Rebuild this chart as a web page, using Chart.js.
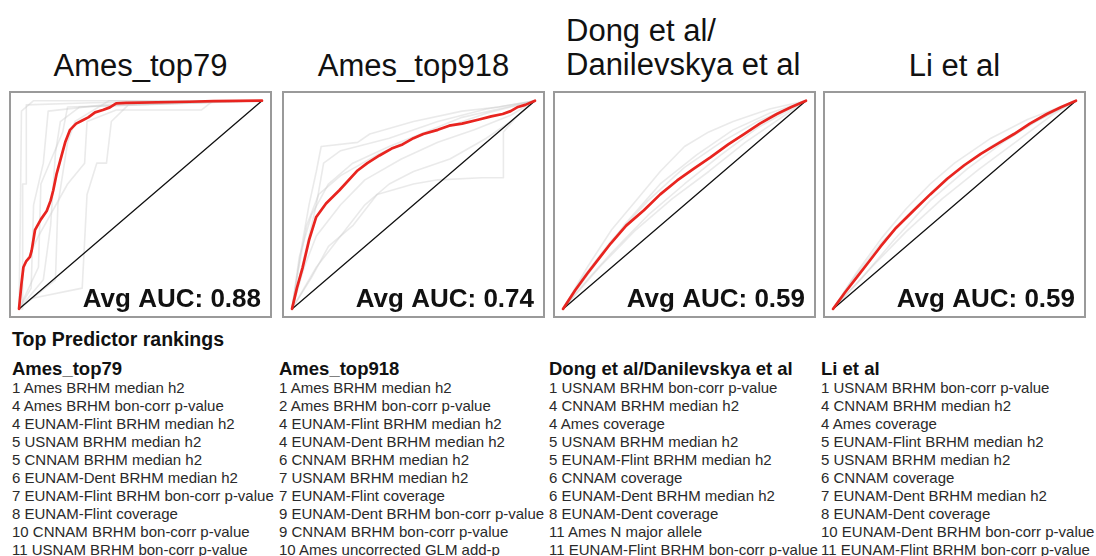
<!DOCTYPE html>
<html>
<head>
<meta charset="utf-8">
<script src="https://cdn.jsdelivr.net/npm/chart.js@4.4.0/dist/chart.umd.min.js"></script>
<style>
  body { margin: 0; background: #fff; font-family: "Liberation Sans", Arial, Helvetica, sans-serif; }
  #page { position: relative; width: 1096px; height: 556px; overflow: hidden; }
  .title { position: absolute; font-size: 31px; line-height: 34px; color: #111; white-space: nowrap; }
  .panel { position: absolute; top: 91px; width: 263px; height: 227px; box-sizing: border-box; border: 2px solid #9a9a9a; }
  .panel canvas { display: block; }
  #ranktitle { position: absolute; left: 12px; top: 330px; font-weight: bold; font-size: 19.5px; line-height: 19.5px; color: #111; }
  .col { position: absolute; top: 360px; white-space: nowrap; }
  .col h3 { margin: 0; font-size: 18.5px; line-height: 18.5px; font-weight: bold; color: #111; }
  .col div { font-size: 15px; line-height: 18.05px; color: #2a2a2a; }
</style>
</head>
<body>
<div id="page">
  <div class="title" style="left:9px;width:263px;text-align:center;top:49px">Ames_top79</div>
  <div class="title" style="left:282px;width:263px;text-align:center;top:49px">Ames_top918</div>
  <div class="title" style="left:566px;top:14px">Dong et al/<br>Danilevskya et al</div>
  <div class="title" style="left:823px;width:263px;text-align:center;top:49px">Li et al</div>

  <div class="panel" style="left:9px"><canvas id="c0" width="259" height="223"></canvas></div>
  <div class="panel" style="left:282px"><canvas id="c1" width="259" height="223"></canvas></div>
  <div class="panel" style="left:553px"><canvas id="c2" width="259" height="223"></canvas></div>
  <div class="panel" style="left:823px"><canvas id="c3" width="259" height="223"></canvas></div>

  <div id="ranktitle">Top Predictor rankings</div>
  <div class="col" id="r0" style="left:12px"></div>
  <div class="col" id="r1" style="left:279px"></div>
  <div class="col" id="r2" style="left:549px"></div>
  <div class="col" id="r3" style="left:821px"></div>
</div>

<script>
// panel names and average AUC labels
const panelNames = ['Ames_top79', 'Ames_top918', 'Dong et al/Danilevskya et al', 'Li et al'];
const avgAuc = ['0.88', '0.74', '0.59', '0.59'];

// average ROC curves (fpr, tpr)
const top79Avg = [[0,0],[0.01,0.12],[0.018,0.2],[0.03,0.23],[0.045,0.25],[0.052,0.28],[0.066,0.38],[0.09,0.43],[0.114,0.47],[0.13,0.52],[0.141,0.57],[0.155,0.65],[0.169,0.71],[0.19,0.8],[0.21,0.86],[0.235,0.89],[0.26,0.905],[0.285,0.92],[0.313,0.944],[0.345,0.955],[0.374,0.968],[0.4,0.987],[0.44,0.99],[0.7,0.995],[0.8,0.998],[1,1]];
const top918Avg = [[0,0],[0.02,0.1],[0.044,0.2],[0.07,0.33],[0.099,0.44],[0.14,0.506],[0.195,0.57],[0.27,0.665],[0.31,0.7],[0.36,0.737],[0.41,0.77],[0.455,0.79],[0.5,0.82],[0.54,0.84],[0.6,0.86],[0.647,0.88],[0.7,0.89],[0.77,0.91],[0.82,0.925],[0.867,0.936],[0.9,0.95],[0.93,0.97],[0.96,0.98],[1,1]];
const dongAvg = [[0,0],[0.05,0.09],[0.1,0.17],[0.15,0.245],[0.196,0.314],[0.26,0.4],[0.333,0.474],[0.4,0.55],[0.47,0.617],[0.54,0.675],[0.608,0.729],[0.68,0.79],[0.745,0.84],[0.81,0.89],[0.88,0.936],[0.94,0.97],[1,1]];
const liAvg = [[0,0],[0.05,0.08],[0.1,0.155],[0.15,0.23],[0.196,0.3],[0.26,0.39],[0.333,0.474],[0.4,0.55],[0.47,0.625],[0.54,0.69],[0.608,0.745],[0.68,0.795],[0.745,0.84],[0.81,0.89],[0.88,0.936],[0.94,0.97],[1,1]];

// individual predictor curves (faint grey)
const top79Runs = [
  [[0,0],[0.015,0],[0.015,0.6],[0.03,0.6],[0.03,0.98],[0.3,0.99],[1,1]],
  [[0,0],[0.05,0.1],[0.06,0.5],[0.1,0.7],[0.12,0.95],[0.35,0.98],[1,1]],
  [[0,0],[0.1,0.14],[0.13,0.4],[0.15,0.75],[0.17,0.9],[0.25,0.97],[1,1]],
  [[0,0],[0.15,0.14],[0.16,0.5],[0.2,0.8],[0.23,0.9],[0.3,0.95],[0.37,1],[1,1]],
  [[0,0],[0.02,0.2],[0.08,0.35],[0.2,0.6],[0.27,0.7],[0.28,0.9],[0.4,0.955],[0.75,0.955],[0.8,1],[1,1]],
  [[0,0],[0.05,0.05],[0.26,0.1],[0.28,0.55],[0.32,0.7],[0.36,0.7],[0.38,0.9],[0.45,0.98],[1,1]],
  [[0,0],[0.005,0.4],[0.01,0.95],[0.06,1],[1,1]],
  [[0,0],[0.08,0.2],[0.09,0.6],[0.18,0.85],[0.2,0.97],[1,1]]
];
const top918Runs = [
  [[0,0],[0.04,0.3],[0.07,0.5],[0.1,0.66],[0.12,0.78],[0.27,0.8],[0.32,0.84],[0.5,0.9],[0.7,0.95],[0.85,0.97],[1,1]],
  [[0,0],[0.06,0.3],[0.1,0.5],[0.13,0.7],[0.2,0.76],[0.4,0.82],[0.6,0.9],[0.8,0.96],[1,1]],
  [[0,0],[0.08,0.15],[0.15,0.3],[0.25,0.4],[0.35,0.55],[0.5,0.6],[0.6,0.62],[0.78,0.63],[0.87,0.63],[0.87,0.85],[0.93,0.93],[1,1]],
  [[0,0],[0.05,0.2],[0.1,0.35],[0.2,0.5],[0.3,0.62],[0.45,0.72],[0.6,0.8],[0.75,0.86],[0.9,0.93],[1,1]],
  [[0,0],[0.03,0.25],[0.08,0.45],[0.15,0.6],[0.25,0.7],[0.4,0.78],[0.55,0.85],[0.7,0.92],[0.85,0.96],[1,1]],
  [[0,0],[0.1,0.2],[0.2,0.35],[0.3,0.5],[0.4,0.6],[0.5,0.66],[0.65,0.72],[0.8,0.82],[0.9,0.9],[1,1]],
  [[0,0],[0.02,0.15],[0.06,0.4],[0.11,0.55],[0.2,0.64],[0.35,0.74],[0.5,0.82],[0.65,0.88],[0.8,0.94],[1,1]]
];
const dongRuns = [
  [[0,0],[0.1,0.2],[0.2,0.38],[0.3,0.52],[0.4,0.66],[0.5,0.78],[0.6,0.85],[0.7,0.9],[0.85,0.96],[1,1]],
  [[0,0],[0.1,0.16],[0.25,0.4],[0.4,0.6],[0.55,0.74],[0.7,0.86],[0.85,0.94],[1,1]],
  [[0,0],[0.15,0.2],[0.3,0.38],[0.45,0.53],[0.6,0.66],[0.75,0.8],[0.9,0.92],[1,1]],
  [[0,0],[0.1,0.14],[0.2,0.27],[0.35,0.45],[0.5,0.6],[0.65,0.74],[0.8,0.87],[1,1]],
  [[0,0],[0.08,0.15],[0.2,0.33],[0.35,0.52],[0.5,0.68],[0.65,0.8],[0.8,0.9],[1,1]]
];
const liRuns = [
  [[0,0],[0.1,0.18],[0.2,0.34],[0.3,0.48],[0.4,0.6],[0.5,0.7],[0.65,0.82],[0.8,0.91],[1,1]],
  [[0,0],[0.12,0.15],[0.25,0.33],[0.4,0.52],[0.55,0.67],[0.7,0.8],[0.85,0.91],[1,1]],
  [[0,0],[0.15,0.19],[0.3,0.37],[0.45,0.53],[0.6,0.67],[0.75,0.8],[0.9,0.93],[1,1]],
  [[0,0],[0.08,0.14],[0.2,0.32],[0.35,0.5],[0.5,0.65],[0.65,0.78],[0.8,0.88],[1,1]]
];

// top predictor ranking lists
const top79Ranks = ['1 Ames BRHM median h2','4 Ames BRHM bon-corr p-value','4 EUNAM-Flint BRHM median h2','5 USNAM BRHM median h2','5 CNNAM BRHM median h2','6 EUNAM-Dent BRHM median h2','7 EUNAM-Flint BRHM bon-corr p-value','8 EUNAM-Flint coverage','10 CNNAM BRHM bon-corr p-value','11 USNAM BRHM bon-corr p-value'];
const top918Ranks = ['1 Ames BRHM median h2','2 Ames BRHM bon-corr p-value','4 EUNAM-Flint BRHM median h2','4 EUNAM-Dent BRHM median h2','6 CNNAM BRHM median h2','7 USNAM BRHM median h2','7 EUNAM-Flint coverage','9 EUNAM-Dent BRHM bon-corr p-value','9 CNNAM BRHM bon-corr p-value','10 Ames uncorrected GLM add-p'];
const dongRanks = ['1 USNAM BRHM bon-corr p-value','4 CNNAM BRHM median h2','4 Ames coverage','5 USNAM BRHM median h2','5 EUNAM-Flint BRHM median h2','6 CNNAM coverage','6 EUNAM-Dent BRHM median h2','8 EUNAM-Dent coverage','11 Ames N major allele','11 EUNAM-Flint BRHM bon-corr p-value'];
const liRanks = ['1 USNAM BRHM bon-corr p-value','4 CNNAM BRHM median h2','4 Ames coverage','5 EUNAM-Flint BRHM median h2','5 USNAM BRHM median h2','6 CNNAM coverage','7 EUNAM-Dent BRHM median h2','8 EUNAM-Dent coverage','10 EUNAM-Dent BRHM bon-corr p-value','11 EUNAM-Flint BRHM bon-corr p-value'];

const avgCurves = [top79Avg, top918Avg, dongAvg, liAvg];
const runCurves = [top79Runs, top918Runs, dongRuns, liRuns];
const rankLists = [top79Ranks, top918Ranks, dongRanks, liRanks];

// "Avg AUC" label in the lower right corner of each panel
const aucLabel = {
  id: 'aucLabel',
  afterDraw(chart, args, opts) {
    const c = chart.ctx;
    c.save();
    c.font = 'bold 26px "Liberation Sans", Arial, sans-serif';
    c.fillStyle = '#111';
    c.textAlign = 'right';
    c.textBaseline = 'alphabetic';
    c.fillText('Avg AUC: ' + opts.text, chart.width - 9, chart.height - 9);
    c.restore();
  }
};

for (let i = 0; i < 4; i++) {
  const datasets = runCurves[i].map(run => ({
    data: run, borderColor: 'rgba(200,200,200,0.38)', borderWidth: 1.6, order: 2
  }));
  datasets.push({ data: [[0,0],[1,1]], borderColor: '#111', borderWidth: 1.3, order: 1 });
  datasets.push({ data: avgCurves[i], borderColor: '#e8241f', borderWidth: 2.7, order: 0 });

  new Chart(document.getElementById('c' + i), {
    type: 'line',
    data: { datasets },
    options: {
      responsive: false,
      animation: false,
      layout: { padding: 0 },
      elements: { point: { radius: 0 }, line: { tension: 0, borderJoinStyle: 'round', borderCapStyle: 'round' } },
      scales: {
        x: { type: 'linear', min: -0.033, max: 1.033, display: false },
        y: { type: 'linear', min: -0.034, max: 1.037, display: false }
      },
      plugins: { legend: { display: false }, tooltip: { enabled: false }, aucLabel: { text: avgAuc[i] } }
    },
    plugins: [aucLabel]
  });

  // ranking column
  const col = document.getElementById('r' + i);
  const h = document.createElement('h3');
  h.textContent = panelNames[i];
  col.appendChild(h);
  rankLists[i].forEach(t => {
    const d = document.createElement('div');
    d.textContent = t;
    col.appendChild(d);
  });
}
</script>
</body>
</html>
